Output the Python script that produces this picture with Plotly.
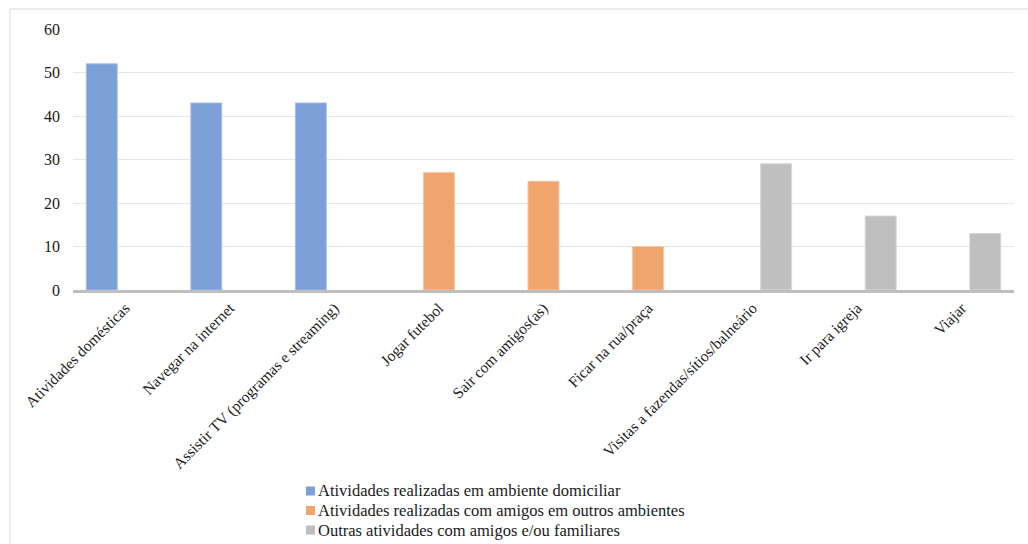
import plotly.graph_objects as go

# Categories grouped by type of activity
categorias = [
    "Atividades domésticas",
    "Navegar na internet",
    "Assistir TV (programas e streaming)",
    "Jogar futebol",
    "Sair com amigos(as)",
    "Ficar na rua/praça",
    "Visitas a fazendas/sítios/balneário",
    "Ir para igreja",
    "Viajar",
]

cat_domiciliar = ["Atividades domésticas", "Navegar na internet", "Assistir TV (programas e streaming)"]
val_domiciliar = [52, 43, 43]

cat_outros = ["Jogar futebol", "Sair com amigos(as)", "Ficar na rua/praça"]
val_outros = [27, 25, 10]

cat_familia = ["Visitas a fazendas/sítios/balneário", "Ir para igreja", "Viajar"]
val_familia = [29, 17, 13]

series_nomes = [
    "Atividades realizadas em ambiente domiciliar",
    "Atividades realizadas com amigos em outros ambientes",
    "Outras atividades com amigos e/ou familiares",
]

cores = ["#7b9fd7", "#f0a46e", "#bfbfbf"]
bordas = ["#a9c0e6", "#f7c6a3", "#d6d6d6"]

serif = "Liberation Serif"
largura = 0.296
passo = 0.225

W, H = 1028, 544
ML, MR, MT, MB = 73, 14, 29, 254
PW, PH = W - ML - MR, H - MT - MB


def px_x(x):
    return (x - ML) / PW


def px_y(y):
    return (H - MB - y) / PH


fig = go.Figure()
for i, (cats, vals) in enumerate([(cat_domiciliar, val_domiciliar),
                                  (cat_outros, val_outros),
                                  (cat_familia, val_familia)]):
    fig.add_trace(go.Bar(
        x=cats, y=vals, name=series_nomes[i], showlegend=False,
        width=largura, offset=(i - 1) * passo - largura / 2,
        marker=dict(color=cores[i], line=dict(color=bordas[i], width=1)),
    ))

# Chart frame plus a legend block below the category labels
shapes = [dict(type="rect", xref="paper", yref="paper",
               x0=px_x(10), x1=px_x(W + 20), y0=px_y(H + 20), y1=px_y(9),
               line=dict(color="#d9d9d9", width=1), fillcolor="rgba(0,0,0,0)",
               layer="below")]
annotations = []
for i, nome in enumerate(series_nomes):
    cy = 491 + i * 19.5
    shapes.append(dict(type="rect", xref="paper", yref="paper",
                       x0=px_x(306), x1=px_x(315), y0=px_y(cy + 4.5), y1=px_y(cy - 4.5),
                       line=dict(width=0), fillcolor=cores[i]))
    annotations.append(dict(text=nome, xref="paper", yref="paper",
                            x=px_x(316), y=px_y(cy), xanchor="left", yanchor="middle",
                            showarrow=False,
                            font=dict(family=serif, size=16.5, color="#1a1a1a")))

fig.update_layout(
    width=W, height=H,
    margin=dict(l=ML, r=MR, t=MT, b=MB, autoexpand=False),
    paper_bgcolor="white", plot_bgcolor="white",
    barmode="overlay",
    font=dict(family=serif, color="#1a1a1a"),
    showlegend=False,
    shapes=shapes,
    annotations=annotations,
)

fig.update_xaxes(
    type="category", categoryorder="array", categoryarray=categorias,
    range=[-0.5, len(categorias) - 0.5],
    tickangle=-45, tickfont=dict(family=serif, size=15.5, color="#1a1a1a"),
    showline=True, linecolor="#bfbfbf", linewidth=3,
    showgrid=False, ticks="", automargin=False,
)
fig.update_yaxes(
    range=[0, 60], dtick=10,
    tickfont=dict(family=serif, size=16, color="#1a1a1a"),
    showgrid=True, gridcolor="#e6e6e6", gridwidth=1,
    zeroline=False, showline=False, ticks="", ticklabelstandoff=12,
    automargin=False,
)

fig.write_html("out.html")
